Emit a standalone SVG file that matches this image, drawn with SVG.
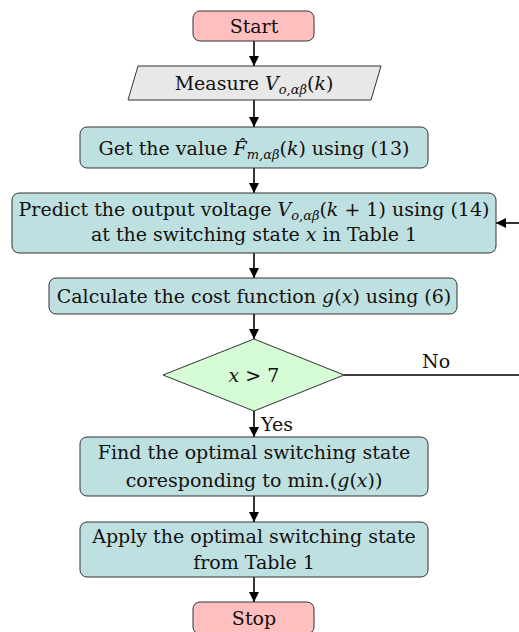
<svg xmlns="http://www.w3.org/2000/svg" width="519" height="632" viewBox="0 0 519 632">
  <defs>
    <marker id="arrow" viewBox="0 0 10 10" refX="10" refY="5" markerWidth="10" markerHeight="10" markerUnits="userSpaceOnUse" orient="auto">
      <path d="M0,0 L10,5 L0,10 z" fill="#000"/>
    </marker>
    <style>
      text { font-family: "DejaVu Serif", "Liberation Serif", serif; font-size: 19px; fill: #111; text-anchor: middle; }
      .m { font-style: italic; }
      .sub { font-size: 13px; font-style: italic; }
      .term { fill: #ffbfbf; stroke: #333; stroke-width: 1; }
      .io { fill: #e8e8e8; stroke: #333; stroke-width: 1; }
      .proc { fill: #bfe0e0; stroke: #333; stroke-width: 1; }
      .dec { fill: #d6fcd6; stroke: #333; stroke-width: 1; }
      .conn { stroke: #000; stroke-width: 1.6; fill: none; }
      .lbl { text-anchor: start; }
    </style>
  </defs>

  <g id="connectors">
    <line class="conn" x1="254" y1="41" x2="254" y2="66" marker-end="url(#arrow)"/>
    <line class="conn" x1="254" y1="100" x2="254" y2="127" marker-end="url(#arrow)"/>
    <line class="conn" x1="254" y1="168" x2="254" y2="193" marker-end="url(#arrow)"/>
    <line class="conn" x1="254" y1="253" x2="254" y2="278" marker-end="url(#arrow)"/>
    <line class="conn" x1="254" y1="314" x2="254" y2="339" marker-end="url(#arrow)"/>
    <line class="conn" x1="254" y1="411" x2="254" y2="437" marker-end="url(#arrow)"/>
    <line class="conn" x1="254" y1="496" x2="254" y2="522" marker-end="url(#arrow)"/>
    <line class="conn" x1="254" y1="577" x2="254" y2="602" marker-end="url(#arrow)"/>
    <!-- loop back for the next switching state -->
    <line class="conn" x1="344" y1="375" x2="519" y2="375"/>
    <line class="conn" x1="519" y1="223" x2="496" y2="223" marker-end="url(#arrow)"/>
    <text class="lbl" x="422" y="368">No</text>
    <text class="lbl" x="261" y="431">Yes</text>
  </g>

  <g id="start">
    <rect class="term" x="193" y="11" width="121" height="30" rx="7"/>
    <text x="254" y="33">Start</text>
  </g>

  <g id="measure">
    <polygon class="io" points="138,66 381,66 371,100 128,100"/>
    <text x="254" y="90">Measure <tspan class="m">V</tspan><tspan class="sub" dy="4">o,αβ</tspan><tspan dy="-4">(</tspan><tspan class="m">k</tspan>)</text>
  </g>

  <g id="estimate">
    <rect class="proc" x="80" y="127" width="348" height="41" rx="7"/>
    <text x="254" y="155">Get the value <tspan class="m">F̂</tspan><tspan class="sub" dy="4">m,αβ</tspan><tspan dy="-4">(</tspan><tspan class="m">k</tspan>) using (13)</text>
  </g>

  <g id="predict">
    <rect class="proc" x="12" y="193" width="484" height="60" rx="7"/>
    <text x="254" y="216">Predict the output voltage <tspan class="m">V</tspan><tspan class="sub" dy="4">o,αβ</tspan><tspan dy="-4">(</tspan><tspan class="m">k</tspan> + 1) using (14)</text>
    <text x="254" y="241">at the switching state <tspan class="m">x</tspan> in Table 1</text>
  </g>

  <g id="cost">
    <rect class="proc" x="49" y="278" width="408" height="36" rx="7"/>
    <text x="254" y="303">Calculate the cost function <tspan class="m">g</tspan>(<tspan class="m">x</tspan>) using (6)</text>
  </g>

  <g id="decision">
    <polygon class="dec" points="254,339 344,375 254,411 163,375"/>
    <text x="254" y="382"><tspan class="m">x</tspan> &gt; 7</text>
  </g>

  <g id="optimal">
    <rect class="proc" x="80" y="437" width="348" height="59" rx="7"/>
    <text x="254" y="459">Find the optimal switching state</text>
    <text x="254" y="487">coresponding to min.(<tspan class="m">g</tspan>(<tspan class="m">x</tspan>))</text>
  </g>

  <g id="apply">
    <rect class="proc" x="80" y="522" width="348" height="55" rx="7"/>
    <text x="254" y="543">Apply the optimal switching state</text>
    <text x="254" y="569">from Table 1</text>
  </g>

  <g id="stop">
    <rect class="term" x="193" y="602" width="121" height="32" rx="7"/>
    <text x="254" y="625">Stop</text>
  </g>
</svg>
